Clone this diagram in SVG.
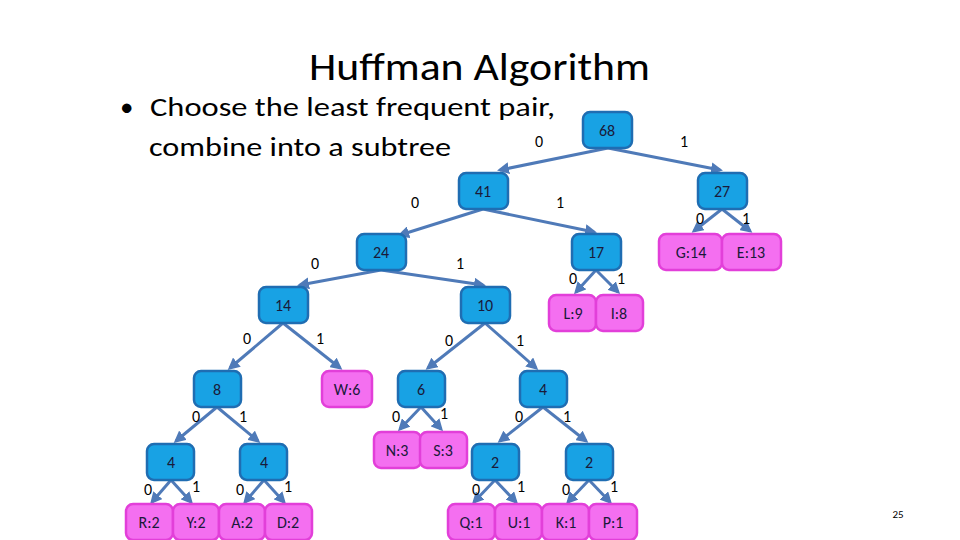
<svg xmlns="http://www.w3.org/2000/svg" width="960" height="540" viewBox="0 0 960 540">
<style>
text{font-family:Carlito,"Open Sans","Liberation Sans",sans-serif;fill:#000}
.b rect{fill:#18a2e4;stroke:#1f6db2;stroke-width:2.5}
.p rect{fill:#f46ff0;stroke:#e23fd9;stroke-width:2.5}
.n text{font-size:16px;text-anchor:middle;dominant-baseline:central;fill:#1a1a3a}
#edges line{stroke:#4f7ab8;stroke-width:3;marker-end:url(#a)}
.l{font-size:16px;text-anchor:middle}
</style>
<defs><marker id="a" markerWidth="4" markerHeight="4" refX="3" refY="2" orient="auto"><path d="M0,0L4,2L0,4z" fill="#4f7ab8"/></marker></defs>
<rect width="960" height="540" fill="#fff"/>
<text x="309" y="80" font-size="38" textLength="341" lengthAdjust="spacingAndGlyphs">Huffman Algorithm</text>
<text x="120" y="116" font-size="27">•</text>
<text x="150" y="116" font-size="27" textLength="405" lengthAdjust="spacingAndGlyphs">Choose the least frequent pair,</text>
<text x="149" y="156" font-size="27" textLength="302" lengthAdjust="spacingAndGlyphs">combine into a subtree</text>
<text x="898" y="518" font-size="11" text-anchor="middle">25</text>
<g id="edges">
<line x1="608" y1="148" x2="500" y2="170"/><line x1="608" y1="148" x2="720" y2="170"/>
<line x1="483" y1="209" x2="400" y2="235"/><line x1="483" y1="209" x2="594" y2="232"/>
<line x1="381" y1="270" x2="300" y2="285"/><line x1="381" y1="270" x2="483" y2="285"/>
<line x1="283" y1="323" x2="230" y2="368"/><line x1="283" y1="323" x2="340" y2="368"/>
<line x1="485" y1="323" x2="428" y2="368"/><line x1="485" y1="323" x2="536" y2="368"/>
<line x1="596" y1="270" x2="576" y2="292"/><line x1="596" y1="270" x2="618" y2="292"/>
<line x1="722" y1="209" x2="694" y2="231"/><line x1="722" y1="209" x2="750" y2="231"/>
<line x1="217" y1="407" x2="176" y2="441"/><line x1="217" y1="407" x2="258" y2="441"/>
<line x1="171" y1="480" x2="152" y2="502"/><line x1="171" y1="480" x2="191" y2="502"/>
<line x1="264" y1="480" x2="245" y2="502"/><line x1="264" y1="480" x2="284" y2="502"/>
<line x1="421" y1="407" x2="400" y2="429"/><line x1="421" y1="407" x2="441" y2="429"/>
<line x1="543" y1="407" x2="500" y2="441"/><line x1="543" y1="407" x2="586" y2="441"/>
<line x1="495" y1="480" x2="474" y2="502"/><line x1="495" y1="480" x2="516" y2="502"/>
<line x1="589" y1="480" x2="568" y2="502"/><line x1="589" y1="480" x2="610" y2="502"/>
</g>
<g>
<text class="l" x="539" y="147">0</text><text class="l" x="684" y="147">1</text>
<text class="l" x="415" y="208">0</text><text class="l" x="560" y="208">1</text>
<text class="l" x="700" y="224">0</text><text class="l" x="746" y="224">1</text>
<text class="l" x="315" y="269">0</text><text class="l" x="460" y="269">1</text>
<text class="l" x="573" y="284">0</text><text class="l" x="621" y="284">1</text>
<text class="l" x="247" y="344">0</text><text class="l" x="320" y="344">1</text>
<text class="l" x="449" y="346">0</text><text class="l" x="520" y="346">1</text>
<text class="l" x="196" y="422">0</text><text class="l" x="243" y="422">1</text>
<text class="l" x="396" y="422">0</text><text class="l" x="444" y="419">1</text>
<text class="l" x="519" y="422">0</text><text class="l" x="567" y="422">1</text>
<text class="l" x="148" y="495">0</text><text class="l" x="196" y="492">1</text>
<text class="l" x="240" y="495">0</text><text class="l" x="288" y="492">1</text>
<text class="l" x="476" y="495">0</text><text class="l" x="521" y="492">1</text>
<text class="l" x="566" y="495">0</text><text class="l" x="614" y="492">1</text>
</g>
<g id="n68" class="n b"><rect x="583" y="112" width="49" height="36" rx="7"/><text x="607" y="130">68</text></g>
<g id="n27" class="n b"><rect x="698" y="173" width="49" height="36" rx="7"/><text x="722" y="191">27</text></g>
<g id="n41" class="n b"><rect x="459" y="173" width="49" height="36" rx="7"/><text x="483" y="191">41</text></g>
<g id="n17" class="n b"><rect x="572" y="234" width="49" height="36" rx="7"/><text x="596" y="252">17</text></g>
<g id="nG" class="n p"><rect x="659" y="234" width="63" height="36" rx="7"/><text x="691" y="252">G:14</text></g>
<g id="nE" class="n p"><rect x="722" y="234" width="59" height="36" rx="7"/><text x="751" y="252">E:13</text></g>
<g id="nL" class="n p"><rect x="549" y="295" width="47" height="36" rx="7"/><text x="573" y="313">L:9</text></g>
<g id="nI" class="n p"><rect x="596" y="295" width="47" height="36" rx="7"/><text x="619" y="313">I:8</text></g>
<g id="n24" class="n b"><rect x="357" y="234" width="49" height="36" rx="7"/><text x="381" y="252">24</text></g>
<g id="n14" class="n b"><rect x="259" y="287" width="49" height="36" rx="7"/><text x="283" y="305">14</text></g>
<g id="n10" class="n b"><rect x="461" y="287" width="49" height="36" rx="7"/><text x="485" y="305">10</text></g>
<g id="n8" class="n b"><rect x="194" y="371" width="47" height="36" rx="7"/><text x="217" y="389">8</text></g>
<g id="nW" class="n p"><rect x="322" y="371" width="50" height="36" rx="7"/><text x="347" y="389">W:6</text></g>
<g id="n6" class="n b"><rect x="398" y="371" width="47" height="36" rx="7"/><text x="421" y="389">6</text></g>
<g id="n4c" class="n b"><rect x="520" y="371" width="47" height="36" rx="7"/><text x="543" y="389">4</text></g>
<g id="nN" class="n p"><rect x="374" y="432" width="47" height="36" rx="7"/><text x="397" y="450">N:3</text></g>
<g id="nS" class="n p"><rect x="420" y="432" width="47" height="36" rx="7"/><text x="443" y="450">S:3</text></g>
<g id="n2a" class="n b"><rect x="472" y="444" width="47" height="36" rx="7"/><text x="495" y="462">2</text></g>
<g id="n2b" class="n b"><rect x="566" y="444" width="47" height="36" rx="7"/><text x="589" y="462">2</text></g>
<g id="n4a" class="n b"><rect x="147" y="444" width="47" height="36" rx="7"/><text x="171" y="462">4</text></g>
<g id="n4b" class="n b"><rect x="240" y="444" width="47" height="36" rx="7"/><text x="264" y="462">4</text></g>
<g id="nR" class="n p"><rect x="126" y="504" width="47" height="36" rx="7"/><text x="149" y="522">R:2</text></g>
<g id="nY" class="n p"><rect x="173" y="504" width="46" height="36" rx="7"/><text x="196" y="522">Y:2</text></g>
<g id="nA" class="n p"><rect x="219" y="504" width="46" height="36" rx="7"/><text x="242" y="522">A:2</text></g>
<g id="nD" class="n p"><rect x="265" y="504" width="47" height="36" rx="7"/><text x="288" y="522">D:2</text></g>
<g id="nQ" class="n p"><rect x="448" y="504" width="47" height="36" rx="7"/><text x="471" y="522">Q:1</text></g>
<g id="nU" class="n p"><rect x="495" y="504" width="47" height="36" rx="7"/><text x="519" y="522">U:1</text></g>
<g id="nK" class="n p"><rect x="542" y="504" width="47" height="36" rx="7"/><text x="566" y="522">K:1</text></g>
<g id="nP" class="n p"><rect x="589" y="504" width="48" height="36" rx="7"/><text x="613" y="522">P:1</text></g>
</svg>
